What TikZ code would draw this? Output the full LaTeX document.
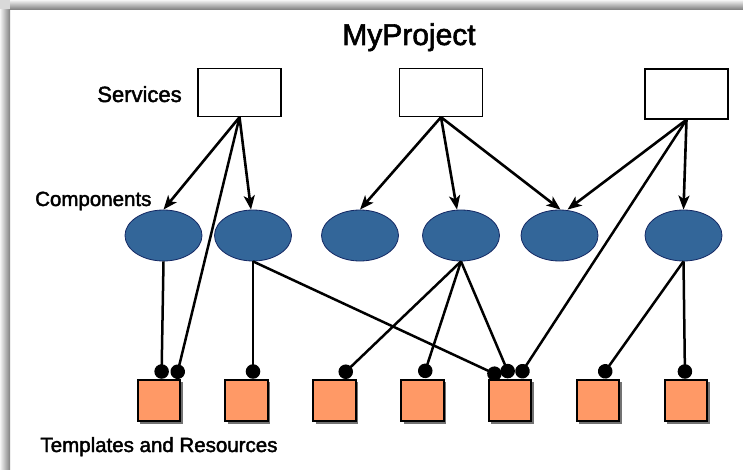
\documentclass[tikz,border=0pt]{standalone}
\usepackage{fontspec}
\setmainfont{Liberation Sans}[FakeBold=2]
\usetikzlibrary{shapes.geometric,arrows.meta,shadows,calc}
\definecolor{compblue}{RGB}{51,102,153}
\definecolor{compedge}{RGB}{20,40,100}
\definecolor{resorange}{RGB}{255,153,102}
\begin{document}
\begin{tikzpicture}[x=1pt,y=-1pt,
  svc/.style={draw=black,line width=1.4pt,fill=white,minimum width=83pt,minimum height=48pt,inner sep=0pt},
  comp/.style={ellipse,draw=compedge,line width=0.8pt,fill=compblue,minimum width=77pt,minimum height=51pt,inner sep=0pt},
  res/.style={draw=black,line width=2pt,fill=resorange,minimum width=42.5pt,minimum height=41.5pt,inner sep=0pt,
    drop shadow={shadow xshift=2.5pt,shadow yshift=-2.5pt,fill=black!55,opacity=1}},
  uses/.style={line width=2.6pt,-{Stealth[length=14pt,width=11pt,inset=3.5pt]}},
  binds/.style={line width=2.5pt,-{Circle[length=14.5pt]}},
  lbl/.style={font=\fontsize{20.5}{24}\selectfont,anchor=base,inner sep=0pt}
]
\useasboundingbox (0,0) rectangle (743,470);
\fill[white] (0,0) rectangle (743,470);
% frame shadow
\shade[top color=black!4,bottom color=black!50] (10,0) rectangle (743,9.5);
\shade[left color=black!4,right color=black!50] (0,9.5) rectangle (10,470);
\fill[black!15] (0,0) rectangle (10,9.5);

% labels
\node[lbl,font=\fontsize{30}{36}\selectfont] (title) at (409,45) {MyProject};
\node[lbl,font=\fontsize{22}{26}\selectfont] (svclbl) at (139.5,102) {Services};
\node[lbl] (complbl) at (93.3,206) {Components};
\node[lbl] (reslbl) at (159,452) {Templates and Resources};

% services
\node[svc] (s1) at (239.5,92.5) {};
\node[svc] (s2) at (441,92.5) {};
\node[svc,minimum height=50pt] (s3) at (686.5,94) {};

% components
\node[comp] (e1) at (163.5,235.5) {};
\node[comp] (e2) at (253,235.5) {};
\node[comp] (e3) at (360,235.5) {};
\node[comp] (e4) at (461,235.5) {};
\node[comp] (e5) at (559.5,235.5) {};
\node[comp] (e6) at (683.5,235.5) {};

% templates and resources
\node[res] (t1) at (159,400.5) {};
\node[res] (t2) at (246.5,400.5) {};
\node[res] (t3) at (334.5,400.5) {};
\node[res] (t4) at (422.5,400.5) {};
\node[res] (t5) at (510,400.5) {};
\node[res] (t6) at (598,400.5) {};
\node[res] (t7) at (686,400.5) {};

% service -> component
\draw[uses] (s1.south) -- (e1.north);
\draw[uses] (s1.south) -- ([xshift=-2pt]e2.north);
\draw[uses] (s2.south) -- (e3.north);
\draw[uses] (s2.south) -- ([xshift=-4pt]e4.north);
\draw[uses] (s2.south) -- ([xshift=1pt]e5.north);
\draw[uses] (s3.south) -- ([xshift=8pt]e5.north);
\draw[uses] (s3.south) -- (e6.north);

% bindings to templates and resources
\draw[binds] (s1.south) -- ([xshift=17pt]t1.north);
\draw[binds] (s3.south) -- ([xshift=8.5pt,yshift=1.5pt]t5.north);
\draw[binds] (e1.south) -- ([xshift=2.5pt]t1.north);
\draw[binds] (e2.south) -- ([xshift=6.5pt]t2.north);
\draw[binds] (e2.south) -- ([xshift=-9pt,yshift=2pt]t5.north);
\draw[binds] (e4.south) -- ([xshift=6pt,yshift=2pt]t3.north);
\draw[binds] (e4.south) -- ([xshift=0.5pt,yshift=1pt]t4.north);
\draw[binds] (e4.south) -- ([xshift=0.5pt,yshift=1pt]t5.north);
\draw[binds] (e6.south) -- ([xshift=3pt,yshift=1.5pt]t6.north);
\draw[binds] (e6.south) -- ([xshift=-1pt]t7.north);
\end{tikzpicture}
\end{document}
